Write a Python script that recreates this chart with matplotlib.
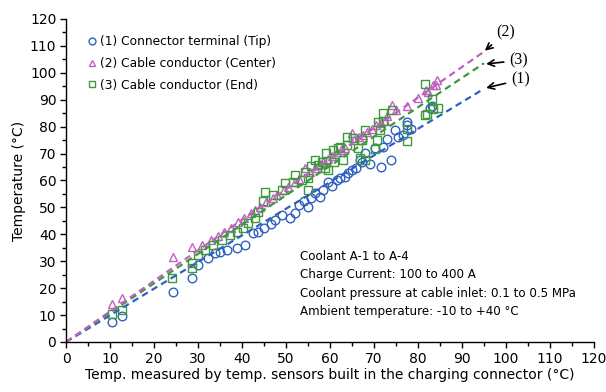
import matplotlib
matplotlib.use("Agg")
import matplotlib.pyplot as plt
from matplotlib.ticker import MultipleLocator

# ---- data ----
tip_x = [10.4, 12.7, 24.4, 28.6, 30.1, 32.3, 33.9, 35.0, 36.5, 38.8, 40.7, 42.6, 43.6, 45.0, 46.5,
         47.5, 49.0, 50.9, 52.0, 53.0, 54.0, 55.0, 55.8, 56.5, 57.7, 58.5, 59.6, 60.5, 61.5, 62.3,
         63.4, 64.2, 64.9, 66.0, 66.8, 67.2, 68.0, 69.0, 70.2, 71.7, 72.0, 72.9, 73.9, 74.8, 75.5,
         76.5, 77.6, 77.6, 78.5, 82.7, 83.1]
tip_y = [7.5, 9.8, 18.5, 23.7, 28.6, 31.1, 33.0, 33.5, 34.2, 34.8, 36.0, 40.4, 41.0, 42.5, 44.0,
         45.5, 47.0, 46.0, 47.8, 51.0, 52.5, 50.3, 53.5, 55.5, 54.0, 56.5, 59.6, 58.0, 60.2, 60.9,
         61.4, 62.6, 63.9, 64.6, 67.7, 67.0, 70.1, 66.0, 72.0, 64.9, 72.6, 75.5, 67.7, 78.6, 76.0,
         77.0, 80.5, 81.8, 79.0, 87.0, 87.5]

center_x = [10.5, 12.7, 24.4, 28.6, 31.0, 33.0, 34.5, 36.0, 37.5, 39.0, 40.5, 42.0, 43.0, 44.1,
            45.5, 47.0, 48.0, 49.5, 50.5, 52.0, 53.0, 54.3, 55.5, 56.5, 57.5, 58.5, 59.5, 60.5,
            61.5, 62.5, 63.5, 64.9, 65.5, 66.5, 67.5, 68.5, 69.5, 70.5, 71.5, 72.5, 73.0, 74.0,
            75.0, 77.6, 80.0, 81.8, 82.3, 83.5, 84.2, 84.4]
center_y = [14.0, 16.3, 31.5, 35.4, 36.0, 38.0, 39.5, 41.0, 42.5, 44.5, 46.0, 48.0, 49.0, 50.3,
            52.0, 53.5, 54.5, 56.5, 57.5, 59.5, 60.5, 64.6, 63.0, 64.5, 66.0, 67.0, 68.0, 69.0,
            70.5, 71.5, 72.0, 77.5, 75.0, 76.0, 77.0, 78.0, 79.0, 80.5, 81.5, 82.0, 84.0, 88.1,
            86.0, 87.5, 90.5, 93.7, 93.0, 95.5, 95.5, 97.4]

end_x = [10.5, 12.7, 24.2, 28.6, 28.6, 30.1, 31.6, 33.5, 35.4, 37.3, 38.8, 40.3, 41.4, 43.0, 43.6,
         44.8, 45.2, 47.1, 49.0, 49.8, 51.7, 52.0, 53.6, 54.3, 55.0, 55.1, 55.8, 56.6, 57.3, 58.1,
         58.9, 59.2, 59.6, 60.8, 61.0, 61.9, 62.3, 63.0, 63.8, 63.8, 65.3, 66.4, 66.8, 67.2, 68.0,
         68.0, 70.2, 70.6, 71.0, 71.4, 72.1, 72.1, 74.2, 77.6, 77.6, 81.7, 81.7, 82.0, 83.3, 83.4,
         84.5]
end_y = [10.5, 11.9, 23.7, 27.4, 29.3, 32.3, 34.2, 36.0, 37.9, 39.8, 41.0, 42.3, 44.1, 46.0, 48.2,
         52.2, 55.9, 54.6, 56.5, 59.0, 59.6, 62.1, 60.2, 63.3, 56.5, 60.8, 65.2, 67.7, 65.8, 67.0,
         64.6, 70.1, 63.9, 71.4, 67.0, 72.0, 72.6, 67.7, 73.2, 76.3, 75.7, 72.0, 68.3, 75.1, 78.8,
         67.7, 71.8, 75.1, 81.9, 78.8, 85.0, 82.0, 86.0, 79.2, 74.5, 95.9, 84.4, 84.6, 90.3, 86.5,
         87.1]

# fitted trend lines through origin (slope), drawn over this x range
fit_x_range = [0, 95]
slope_tip, slope_center, slope_end = 0.99, 1.135, 1.09

series_labels = ["(1) Connector terminal (Tip)", "(2) Cable conductor (Center)",
                 "(3) Cable conductor (End)"]
note_lines = ["Coolant A-1 to A-4", "Charge Current: 100 to 400 A",
              "Coolant pressure at cable inlet: 0.1 to 0.5 MPa",
              "Ambient temperature: -10 to +40 \u00b0C"]
xlabel = "Temp. measured by temp. sensors built in the charging connector (\u00b0C)"
ylabel = "Temperature (\u00b0C)"

# ---- style ----
c_blue = "#3060C0"
c_pink = "#C060C0"
c_green = "#3C9A3C"
plt.rcParams["font.family"] = ["DejaVu Sans"]

fig = plt.figure(figsize=(6.06, 3.92), dpi=100)
ax = fig.add_axes([0.109, 0.1276, 0.871, 0.824])

ms = 6.2
h1, = ax.plot(tip_x, tip_y, "o", ms=ms, mfc="none", mec=c_blue, mew=1.0, label=series_labels[0])
h2, = ax.plot(center_x, center_y, "^", ms=ms, mfc="none", mec=c_pink, mew=1.0, label=series_labels[1])
h3, = ax.plot(end_x, end_y, "s", ms=ms - 0.3, mfc="none", mec=c_green, mew=1.0, label=series_labels[2])

dash = (0, (3.0, 2.0))
for s, c in [(slope_tip, c_blue), (slope_end, c_green), (slope_center, c_pink)]:
    ax.plot(fit_x_range, [fit_x_range[0] * s, fit_x_range[1] * s], color=c, lw=1.6, linestyle=dash)

ax.set_xlim(0, 120)
ax.set_ylim(0, 120)
ax.xaxis.set_major_locator(MultipleLocator(10))
ax.yaxis.set_major_locator(MultipleLocator(10))
ax.xaxis.set_minor_locator(MultipleLocator(5))
ax.yaxis.set_minor_locator(MultipleLocator(5))
ax.tick_params(which="major", direction="out", length=4, width=1, labelsize=10, pad=3)
ax.tick_params(which="minor", direction="out", length=3, width=1)
for sp in ["top", "right"]:
    ax.spines[sp].set_visible(False)
for sp in ["left", "bottom"]:
    ax.spines[sp].set_linewidth(1.0)

ax.set_xlabel(xlabel, fontsize=10, labelpad=2)
ax.set_ylabel(ylabel, fontsize=10, labelpad=3)

ax.legend(handles=[h1, h2, h3], loc="upper left", bbox_to_anchor=(0.035, 0.965), frameon=False,
          fontsize=8.8, handlelength=0.5, handletextpad=0.35, labelspacing=0.72,
          borderaxespad=0, markerscale=0.8)

ax.text(53.2, 34.2, "\n".join(note_lines), fontsize=8.6, ha="left", va="top", linespacing=1.55)

arrow = dict(arrowstyle="->", color="black", lw=1.2, shrinkA=2, shrinkB=0)
serif = dict(family="Liberation Serif", fontsize=11.5)
ax.annotate("(2)", xy=(95.2, 108.2), xytext=(100.0, 114.9), ha="center", va="center",
            arrowprops=arrow, annotation_clip=False, **serif)
ax.annotate("(3)", xy=(95.5, 103.3), xytext=(102.9, 104.6), ha="center", va="center",
            arrowprops=arrow, annotation_clip=False, **serif)
ax.annotate("(1)", xy=(95.5, 94.4), xytext=(103.3, 97.4), ha="center", va="center",
            arrowprops=arrow, annotation_clip=False, **serif)

fig.savefig("out.png", dpi=100)
